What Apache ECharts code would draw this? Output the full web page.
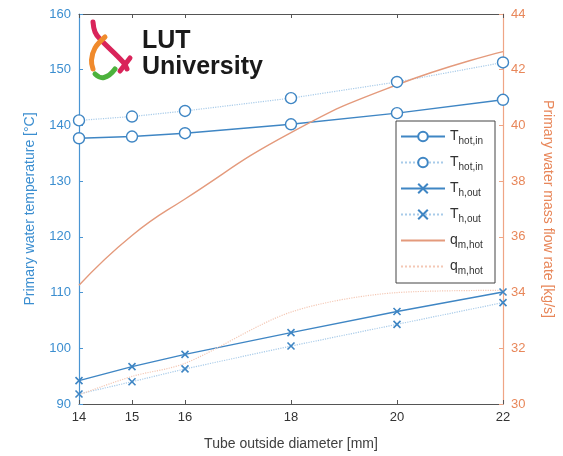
<!DOCTYPE html>
<html>
<head>
<meta charset="utf-8">
<script src="https://cdn.jsdelivr.net/npm/echarts@6/dist/echarts.min.js"></script>
<style>
  html, body { margin: 0; padding: 0; background: #fff; }
  #chart { width: 563px; height: 456px; }
</style>
</head>
<body>
<div id="chart"></div>
<script>
// 管径 (mm)
var diameters = [14, 15, 16, 18, 20, 22];
// 左轴 温度
var tHotIn = [137.7, 138.0, 138.6, 140.2, 142.2, 144.6];
var tHotInB = [140.9, 141.6, 142.6, 144.9, 147.8, 151.3];
var tHOut = [94.2, 96.7, 98.9, 102.8, 106.6, 110.1];
var tHOutB = [91.8, 94.0, 96.3, 100.4, 104.3, 108.2];
// 右轴 流量
var qmHot = [34.26, 36.05, 37.36, 39.74, 41.46, 42.65];
var qmHotB = [30.33, 30.99, 31.46, 33.3, 34.0, 34.08];

var seriesNames = ['tin1', 'tin2', 'tout1', 'tout2', 'qm1', 'qm2'];
var legendLabels = {
    tin1: ['T', 'hot,in'],
    tin2: ['T', 'hot,in'],
    tout1: ['T', 'h,out'],
    tout2: ['T', 'h,out'],
    qm1: ['q', 'm,hot'],
    qm2: ['q', 'm,hot']
};

var blue = '#3f86c4';
var orange = '#e49a7c';
var font = 'Liberation Sans, Arial, sans-serif';
var xMark = 'path://M0,0L10,10M0,10L10,0';

function pairs(ys) {
    var out = [];
    for (var i = 0; i < diameters.length; i++) {
        out.push([diameters[i], ys[i]]);
    }
    return out;
}

// 图例项 流量线不显示标记
var legendData = seriesNames.map(function(n) {
    if (n.indexOf('qm') === 0) {
        return { name: n, itemStyle: { opacity: 0 } };
    }
    return { name: n };
});

var chart = echarts.init(document.getElementById('chart'));

var option = {
    backgroundColor: '#fff',
    animation: false,
    grid: { left: 79, right: 57, top: 14, bottom: 50 },
    xAxis: [{
        type: 'value',
        min: 14,
        max: 22,
        name: 'Tube outside diameter [mm]',
        nameLocation: 'middle',
        nameGap: 33,
        nameTextStyle: { color: '#404040', fontSize: 14, fontFamily: font },
        axisLine: { lineStyle: { color: '#555', width: 1 } },
        axisTick: { inside: true, length: 4, customValues: diameters, lineStyle: { color: '#555' } },
        axisLabel: { customValues: diameters, color: '#333', fontSize: 13, margin: 7, fontFamily: font },
        splitLine: { show: false }
    }, {
        type: 'value',
        position: 'top',
        min: 14,
        max: 22,
        axisLine: { lineStyle: { color: '#555', width: 1 } },
        axisTick: { inside: true, length: 4, customValues: diameters, lineStyle: { color: '#555' } },
        axisLabel: { show: false },
        splitLine: { show: false }
    }],
    yAxis: [{
        type: 'value',
        min: 90,
        max: 160,
        interval: 10,
        name: 'Primary water temperature [°C]',
        nameLocation: 'middle',
        nameGap: 42,
        nameTextStyle: { color: '#3b8ed0', fontSize: 14, fontFamily: font },
        axisLine: { show: true, lineStyle: { color: '#4a95d3', width: 1.2 } },
        axisTick: { inside: true, length: 4 },
        axisLabel: { color: '#3b8ed0', fontSize: 13, margin: 8, fontFamily: font },
        splitLine: { show: false }
    }, {
        type: 'value',
        position: 'right',
        min: 30,
        max: 44,
        interval: 2,
        name: 'Primary water mass flow rate [kg/s]',
        nameLocation: 'middle',
        nameGap: 38,
        nameRotate: -90,
        nameTextStyle: { color: '#e8875a', fontSize: 14, fontFamily: font },
        axisLine: { show: true, lineStyle: { color: '#efa585', width: 1.2 } },
        axisTick: { inside: true, length: 4 },
        axisLabel: { color: '#e8875a', fontSize: 13, margin: 8, fontFamily: font },
        splitLine: { show: false }
    }],
    legend: {
        orient: 'vertical',
        left: 396,
        top: 121,
        backgroundColor: '#fff',
        borderColor: '#444',
        borderWidth: 1,
        padding: [6, 12, 7, 4],
        itemWidth: 44,
        itemHeight: 12,
        itemGap: 7,
        data: legendData,
        formatter: function(name) {
            var l = legendLabels[name];
            return '{a|' + l[0] + '}{b|' + l[1] + '}';
        },
        textStyle: {
            rich: {
                a: { fontSize: 14, color: '#333', fontFamily: font, lineHeight: 21 },
                b: { fontSize: 10, color: '#333', fontFamily: font, padding: [9, 0, 0, 0], lineHeight: 21 }
            }
        }
    },
    graphic: [
        // LUT 标志
        { type: 'polyline', shape: { points: [[93, 22], [95, 32], [100, 39], [123, 62], [127, 69]], smooth: 0.4 },
          style: { stroke: '#d9245a', lineWidth: 5, fill: null, lineCap: 'round' } },
        { type: 'line', shape: { x1: 120, y1: 71, x2: 130, y2: 58 },
          style: { stroke: '#d9245a', lineWidth: 5, lineCap: 'round' } },
        { type: 'polyline', shape: { points: [[105, 37], [95, 48], [91.5, 60], [93, 69]], smooth: 0.4 },
          style: { stroke: '#f08a2c', lineWidth: 5, fill: null, lineCap: 'round' } },
        { type: 'polyline', shape: { points: [[95, 74], [104, 77.5], [115, 69]], smooth: 0.5 },
          style: { stroke: '#4cb23c', lineWidth: 5, fill: null, lineCap: 'round' } },
        { type: 'text', left: 142, top: 28,
          style: { text: 'LUT\nUniversity', fill: '#1a1a1a', font: 'bold 25px ' + font, lineHeight: 26 } }
    ],
    series: [{
        name: 'tin1',
        type: 'line',
        data: pairs(tHotIn),
        yAxisIndex: 0,
        symbol: 'circle',
        symbolSize: 11,
        itemStyle: { color: '#fff', borderColor: blue, borderWidth: 1.4 },
        lineStyle: { color: blue, width: 1.4 }
    }, {
        name: 'tin2',
        type: 'line',
        data: pairs(tHotInB),
        yAxisIndex: 0,
        symbol: 'circle',
        symbolSize: 11,
        itemStyle: { color: '#fff', borderColor: blue, borderWidth: 1.4 },
        lineStyle: { color: '#a8cbe9', width: 1.2, type: 'dotted' }
    }, {
        name: 'tout1',
        type: 'line',
        data: pairs(tHOut),
        yAxisIndex: 0,
        symbol: xMark,
        symbolSize: 7,
        itemStyle: { color: 'none', borderColor: blue, borderWidth: 1.6 },
        lineStyle: { color: blue, width: 1.4 }
    }, {
        name: 'tout2',
        type: 'line',
        data: pairs(tHOutB),
        yAxisIndex: 0,
        symbol: xMark,
        symbolSize: 7,
        itemStyle: { color: 'none', borderColor: blue, borderWidth: 1.6 },
        lineStyle: { color: '#a8cbe9', width: 1.2, type: 'dotted' }
    }, {
        name: 'qm1',
        type: 'line',
        data: pairs(qmHot),
        yAxisIndex: 1,
        smooth: true,
        showSymbol: false,
        symbol: 'none',
        itemStyle: { color: orange },
        lineStyle: { color: orange, width: 1.4 }
    }, {
        name: 'qm2',
        type: 'line',
        data: pairs(qmHotB),
        yAxisIndex: 1,
        smooth: 0.3,
        showSymbol: false,
        symbol: 'none',
        itemStyle: { color: orange },
        lineStyle: { color: '#f4c8b5', width: 1.2, type: 'dotted' }
    }]
};

chart.setOption(option);
</script>
</body>
</html>
